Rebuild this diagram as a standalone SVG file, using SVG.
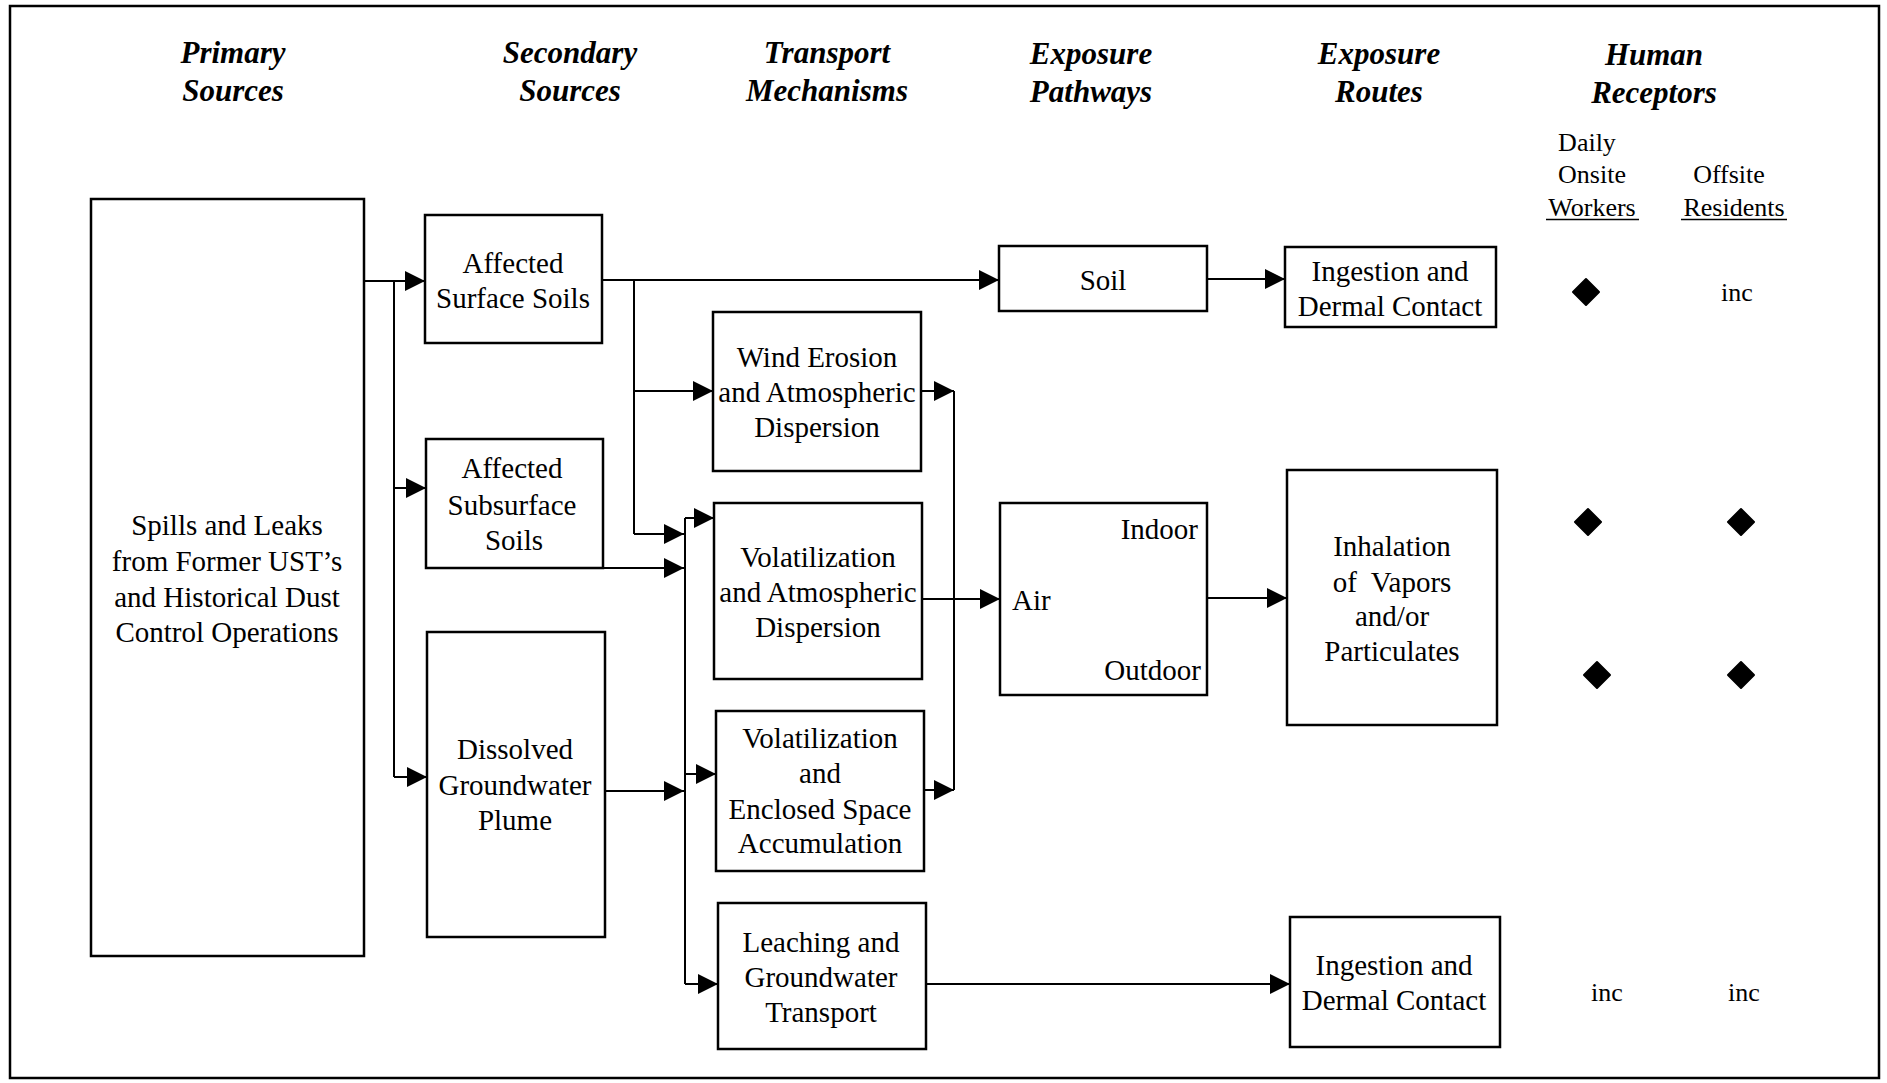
<svg xmlns="http://www.w3.org/2000/svg" width="1887" height="1083" viewBox="0 0 1887 1083">
<style>
.box{fill:#fff;stroke:#000;stroke-width:2.5}
.t{font-family:"Liberation Serif","Times New Roman",serif;font-size:29px;fill:#000;text-anchor:middle}
.h{font-family:"Liberation Serif","Times New Roman",serif;font-size:31px;font-weight:bold;font-style:italic;fill:#000;text-anchor:middle}
.s{font-family:"Liberation Serif","Times New Roman",serif;font-size:26px;fill:#000;text-anchor:middle}
.end{text-anchor:end}
.start{text-anchor:start}
.c{fill:none;stroke:#000;stroke-width:2}
.arr{marker-end:url(#ah)}
.dm{fill:#000;stroke:#000;stroke-width:2;stroke-linejoin:round}
</style>
<defs>
<marker id="ah" markerUnits="userSpaceOnUse" markerWidth="20" markerHeight="20" refX="20" refY="10" orient="auto">
<path d="M0,0 L20,10 L0,20 z" fill="#000"/>
</marker>
</defs>
<rect x="0" y="0" width="1887" height="1083" fill="#fff"/>
<rect x="10" y="6" width="1869" height="1072" fill="none" stroke="#000" stroke-width="2.5"/>

<g id="headers">
<text class="h" x="233" y="63">Primary</text>
<text class="h" x="233" y="101">Sources</text>
<text class="h" x="570" y="63">Secondary</text>
<text class="h" x="570" y="101">Sources</text>
<text class="h" x="827" y="63">Transport</text>
<text class="h" x="827" y="101">Mechanisms</text>
<text class="h" x="1091" y="64">Exposure</text>
<text class="h" x="1091" y="102">Pathways</text>
<text class="h" x="1379" y="64">Exposure</text>
<text class="h" x="1379" y="102">Routes</text>
<text class="h" x="1654" y="65">Human</text>
<text class="h" x="1654" y="103">Receptors</text>
</g>

<g id="receptor-labels">
<text class="s" x="1587" y="151">Daily</text>
<text class="s" x="1592" y="183">Onsite</text>
<text class="s" x="1592" y="216">Workers</text>
<line x1="1546" y1="219.5" x2="1639" y2="219.5" stroke="#000" stroke-width="1.5"/>
<text class="s" x="1729" y="183">Offsite</text>
<text class="s" x="1734" y="216">Residents</text>
<line x1="1681" y1="219.5" x2="1787" y2="219.5" stroke="#000" stroke-width="1.5"/>
</g>

<g id="connectors">
<path class="c arr" d="M364,281 H425"/>
<path class="c" d="M394,281 V777"/>
<path class="c arr" d="M394,488 H426"/>
<path class="c arr" d="M394,777 H427"/>
<path class="c arr" d="M602,280 H999"/>
<path class="c" d="M634,280 V534"/>
<path class="c arr" d="M634,391 H713"/>
<path class="c arr" d="M634,534 H684"/>
<path class="c arr" d="M603,568 H684"/>
<path class="c arr" d="M605,791 H684"/>
<path class="c" d="M685,518 V984"/>
<path class="c arr" d="M685,518 H714"/>
<path class="c arr" d="M685,774 H716"/>
<path class="c arr" d="M685,984 H718"/>
<path class="c arr" d="M921,391 H954"/>
<path class="c" d="M954,391 V790"/>
<path class="c arr" d="M924,790 H954"/>
<path class="c arr" d="M922,599 H1000"/>
<path class="c arr" d="M1207,279 H1285"/>
<path class="c arr" d="M1207,598 H1287"/>
<path class="c arr" d="M926,984 H1290"/>
</g>

<g id="primary">
<rect class="box" x="91" y="199" width="273" height="757"/>
<text class="t" x="227" y="535">Spills and Leaks</text>
<text class="t" x="227" y="571">from Former UST’s</text>
<text class="t" x="227" y="607">and Historical Dust</text>
<text class="t" x="227" y="642">Control Operations</text>
</g>

<g id="surface-soils">
<rect class="box" x="425" y="215" width="177" height="128"/>
<text class="t" x="513" y="273">Affected</text>
<text class="t" x="513" y="308">Surface Soils</text>
</g>

<g id="subsurface-soils">
<rect class="box" x="426" y="439" width="177" height="129"/>
<text class="t" x="512" y="478">Affected</text>
<text class="t" x="512" y="515">Subsurface</text>
<text class="t" x="514" y="550">Soils</text>
</g>

<g id="groundwater-plume">
<rect class="box" x="427" y="632" width="178" height="305"/>
<text class="t" x="515" y="759">Dissolved</text>
<text class="t" x="515" y="795">Groundwater</text>
<text class="t" x="515" y="830">Plume</text>
</g>

<g id="wind-erosion">
<rect class="box" x="713" y="312" width="208" height="159"/>
<text class="t" x="817" y="367">Wind Erosion</text>
<text class="t" x="817" y="402">and Atmospheric</text>
<text class="t" x="817" y="437">Dispersion</text>
</g>

<g id="volatilization-atm">
<rect class="box" x="714" y="503" width="208" height="176"/>
<text class="t" x="818" y="567">Volatilization</text>
<text class="t" x="818" y="602">and Atmospheric</text>
<text class="t" x="818" y="637">Dispersion</text>
</g>

<g id="volatilization-enclosed">
<rect class="box" x="716" y="711" width="208" height="160"/>
<text class="t" x="820" y="748">Volatilization</text>
<text class="t" x="820" y="783">and</text>
<text class="t" x="820" y="819">Enclosed Space</text>
<text class="t" x="820" y="853">Accumulation</text>
</g>

<g id="leaching">
<rect class="box" x="718" y="903" width="208" height="146"/>
<text class="t" x="821" y="952">Leaching and</text>
<text class="t" x="821" y="987">Groundwater</text>
<text class="t" x="821" y="1022">Transport</text>
</g>

<g id="soil">
<rect class="box" x="999" y="246" width="208" height="65"/>
<text class="t" x="1103" y="290">Soil</text>
</g>

<g id="air">
<rect class="box" x="1000" y="503" width="207" height="192"/>
<text class="t end" x="1198" y="539">Indoor</text>
<text class="t start" x="1012" y="610">Air</text>
<text class="t end" x="1201" y="680">Outdoor</text>
</g>

<g id="ingestion-1">
<rect class="box" x="1285" y="247" width="211" height="80"/>
<text class="t" x="1390" y="281">Ingestion and</text>
<text class="t" x="1390" y="316">Dermal Contact</text>
</g>

<g id="inhalation">
<rect class="box" x="1287" y="470" width="210" height="255"/>
<text class="t" x="1392" y="556">Inhalation</text>
<text class="t" x="1392" y="592" xml:space="preserve">of  Vapors</text>
<text class="t" x="1392" y="626">and/or</text>
<text class="t" x="1392" y="661">Particulates</text>
</g>

<g id="ingestion-2">
<rect class="box" x="1290" y="917" width="210" height="130"/>
<text class="t" x="1394" y="975">Ingestion and</text>
<text class="t" x="1394" y="1010">Dermal Contact</text>
</g>

<g id="receptor-marks">
<path class="dm" d="M1586,279 L1599,292 L1586,305 L1573,292 z"/>
<text class="s" x="1737" y="301">inc</text>
<path class="dm" d="M1588,509 L1601,522 L1588,535 L1575,522 z"/>
<path class="dm" d="M1741,509 L1754,522 L1741,535 L1728,522 z"/>
<path class="dm" d="M1597,662 L1610,675 L1597,688 L1584,675 z"/>
<path class="dm" d="M1741,662 L1754,675 L1741,688 L1728,675 z"/>
<text class="s" x="1607" y="1001">inc</text>
<text class="s" x="1744" y="1001">inc</text>
</g>
</svg>
